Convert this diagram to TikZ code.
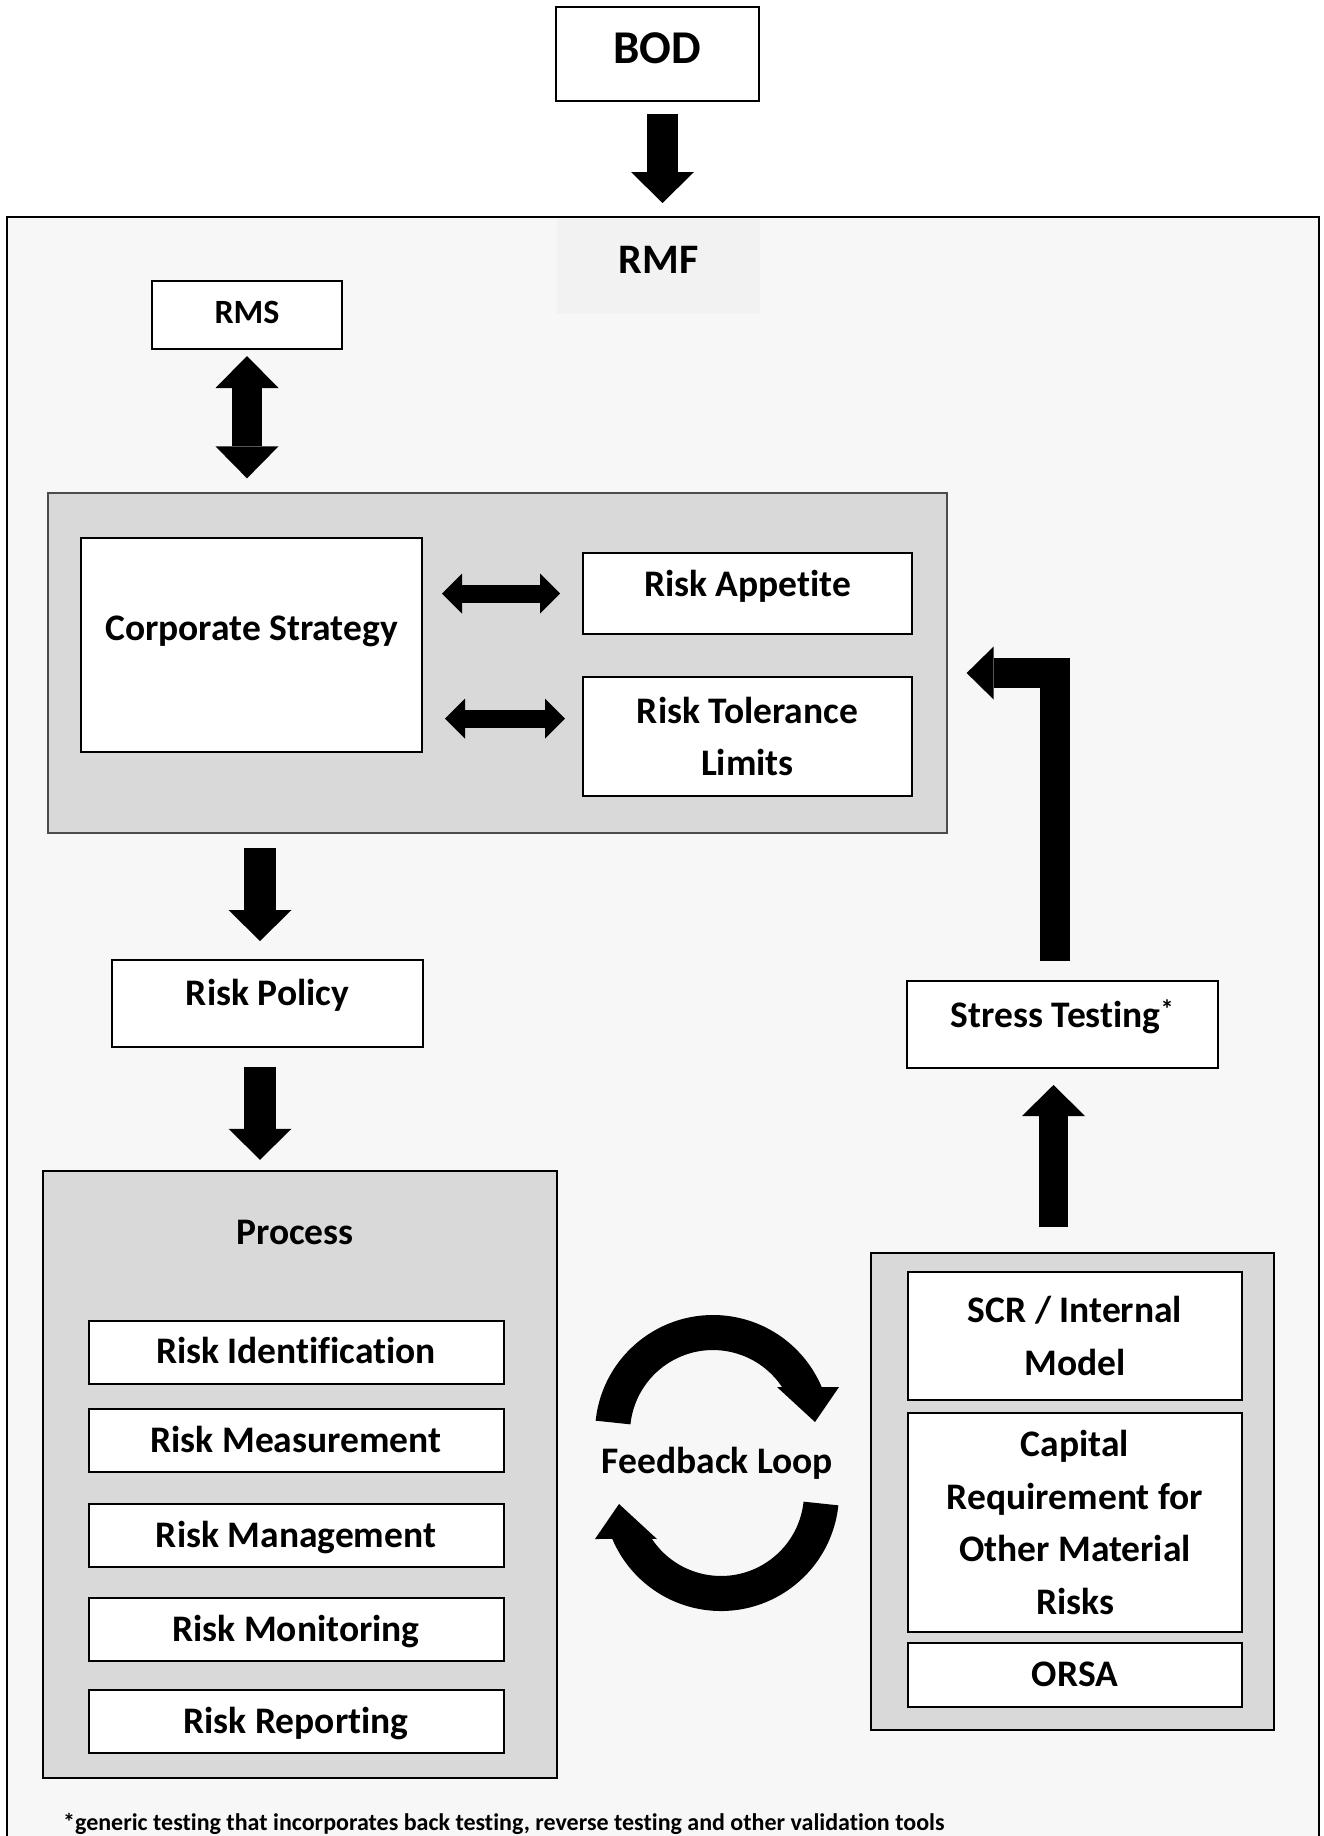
\documentclass[tikz,border=0pt]{standalone}
\usepackage{fontspec}
\setmainfont{Carlito}[Ligatures=NoCommon]
\usetikzlibrary{arrows.meta}

\definecolor{framegray}{HTML}{F7F7F7}
\definecolor{panelgray}{HTML}{D9D9D9}
\definecolor{labelgray}{HTML}{F2F2F2}

\tikzset{
  box/.style={draw, fill=white, line width=2pt, inner sep=0pt,
    font=\bfseries\fontsize{37.5}{52.5}\selectfont, text height=27pt, text depth=3.3pt},
  tallbox/.style={draw, fill=white, line width=2pt, inner sep=0pt, align=center,
    font=\bfseries\fontsize{37.5}{52.5}\selectfont},
  panel/.style={draw, fill=panelgray, inner sep=0pt},
  plain/.style={inner sep=0pt, font=\bfseries\fontsize{37.5}{45}\selectfont,
    text height=23.7pt, text depth=0pt},
  bigarrow/.style={line width=31pt, -{Triangle[length=31pt,width=63pt,line width=0pt]}},
  bigdouble/.style={line width=30pt,
    {Triangle[length=32pt,width=63pt,line width=0pt]}-{Triangle[length=32pt,width=63pt,line width=0pt]}},
  smalldouble/.style={line width=18pt,
    {Triangle[length=20pt,width=40pt,line width=0pt]}-{Triangle[length=20pt,width=40pt,line width=0pt]}},
}

\begin{document}
\begin{tikzpicture}[x=1pt,y=1pt]
\useasboundingbox (0,0) rectangle (1324,-1836);

% outer frame and top
\node[draw, fill=framegray, line width=2pt, minimum width=1312pt, minimum height=1633pt] (frame) at (663,-1033.5) {};
\node[fill=labelgray, minimum width=203pt, minimum height=95pt, inner sep=0pt,
  font=\bfseries\fontsize{42}{50}\selectfont, text height=30pt, text depth=16.5pt] (rmf) at (658.5,-266.5) {RMF};
\node[box, minimum width=203pt, minimum height=94pt, font=\bfseries\fontsize{47}{56}\selectfont,
  text height=34pt, text depth=14.3pt] (bod) at (657.5,-54) {BOD};
\node[box, minimum width=190pt, minimum height=68pt, font=\bfseries\fontsize{34}{40}\selectfont,
  text height=24pt, text depth=6.5pt] (rms) at (247,-315) {RMS};

% strategy block
\node[panel, draw=black!70, line width=1.3pt, minimum width=899pt, minimum height=340pt] (strat) at (497.5,-663) {};
\node[box, minimum width=341pt, minimum height=214pt, text depth=36.3pt] (corp) at (251.5,-645) {Corporate Strategy};
\node[box, minimum width=329pt, minimum height=81pt, text depth=20.3pt] (appetite) at (747.5,-593.5) {Risk Appetite};
\node[tallbox, minimum width=329pt, minimum height=119pt] (tolerance) at (747.5,-736.5) {Risk Tolerance\\Limits};
\coordinate (tolin) at ([yshift=18pt]tolerance.west);

\node[box, minimum width=311pt, minimum height=87pt, text depth=23.3pt] (policy) at (267.5,-1003.5) {Risk Policy};

% process block
\node[panel, line width=2.5pt, minimum width=514pt, minimum height=607pt] (process) at (300,-1474.5) {};
\node[plain] (proctitle) at (295,-1233) {Process};
\node[box, minimum width=415pt, minimum height=63pt] (ident) at (296,-1352) {Risk Identification};
\node[box, minimum width=415pt, minimum height=63pt] (meas) at (296,-1440.5) {Risk Measurement};
\node[box, minimum width=415pt, minimum height=63pt] (mgmt) at (296,-1535.5) {Risk Management};
\node[box, minimum width=415pt, minimum height=63pt] (monit) at (296,-1629.5) {Risk Monitoring};
\node[box, minimum width=415pt, minimum height=63pt] (report) at (296,-1721.5) {Risk Reporting};

% capital block
\node[box, minimum width=311pt, minimum height=87pt, text depth=21.3pt] (stress) at (1062.5,-1024.5) {Stress Testing\textsuperscript{*}};
\node[panel, line width=2.5pt, minimum width=403pt, minimum height=477pt] (capbox) at (1072.5,-1491.5) {};
\node[tallbox, minimum width=334pt, minimum height=128pt] (scr) at (1075,-1336) {SCR / Internal\\Model};
\node[tallbox, minimum width=334pt, minimum height=219pt] (capital) at (1075,-1522.5) {Capital\\Requirement for\\Other Material\\Risks};
\node[box, minimum width=334pt, minimum height=64pt] (orsa) at (1075,-1675) {ORSA};

\node[plain] (fbloop) at (717.5,-1461.5) {Feedback Loop};
\node[anchor=base west, inner sep=0pt, font=\bfseries\fontsize{24}{28}\selectfont] (note) at (63,-1830)
  {*generic testing that incorporates back testing, reverse testing and other validation tools};

% arrows
\draw[bigarrow, shorten <=12pt, shorten >=13pt] ([xshift=5pt]bod.south) -- ([xshift=5pt]bod.south |- frame.north);
\draw[bigdouble, shorten <=6pt, shorten >=14pt] (rms.south) -- (rms.south |- strat.north);
\draw[smalldouble, shorten <=19pt, shorten >=22pt] (corp.east |- appetite.west) -- (appetite.west);
\draw[smalldouble, shorten <=22pt, shorten >=17pt] (corp.east |- tolin) -- (tolin);
\draw[bigarrow, line width=32pt, shorten <=14pt, shorten >=18pt] ([xshift=-7.5pt]policy.north |- strat.south) -- ([xshift=-7.5pt]policy.north);
\draw[bigarrow, line width=32pt, shorten <=19pt, shorten >=10pt] ([xshift=-7.5pt]policy.south) -- ([xshift=-7.5pt]policy.south |- process.north);
\draw[bigarrow, line width=29pt, shorten <=25pt, shorten >=16pt] ([xshift=-9pt]stress.south |- capbox.north) -- ([xshift=-9pt]stress.south);
\draw[line width=30pt, -{Triangle[length=27pt,width=53pt,line width=0pt]}, shorten <=19pt, shorten >=19pt]
  ([xshift=-8pt]stress.north) |- ([yshift=-10pt]strat.east);

% feedback loop
\fill (595.65,-1420.67) arc[start angle=174, end angle=22.9, radius=118] -- (839,-1387) -- (815,-1422)
  -- (777,-1387) -- (782.1,-1387.1) arc[start angle=33.6, end angle=174, radius=83] -- cycle;
\fill[rotate around={180:(717,-1463)}] (595.65,-1420.67) arc[start angle=174, end angle=22.9, radius=118] -- (839,-1387) -- (815,-1422)
  -- (777,-1387) -- (782.1,-1387.1) arc[start angle=33.6, end angle=174, radius=83] -- cycle;
\end{tikzpicture}
\end{document}
